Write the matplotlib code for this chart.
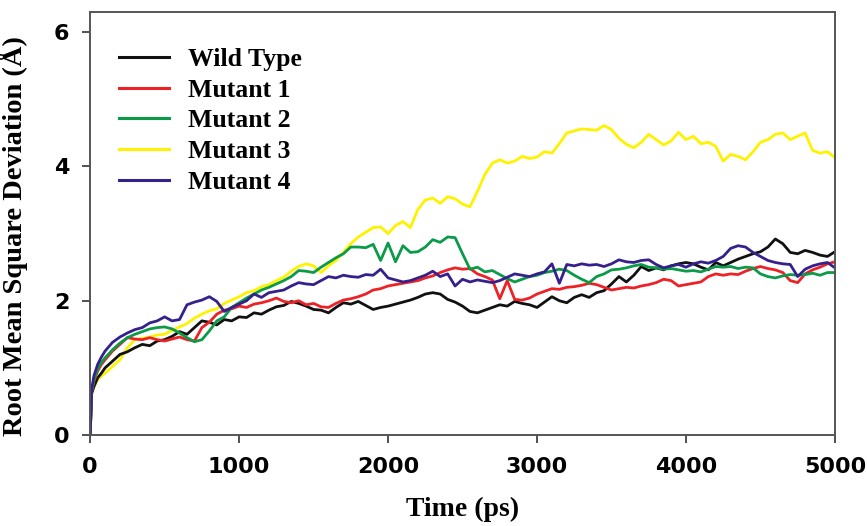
import matplotlib.pyplot as plt

time_ps = [0, 10, 25, 50, 75] + list(range(100, 5001, 50))

wild_type = [
    0.0, 0.62, 0.72,
    0.85, 0.92, 1.0, 1.1, 1.2, 1.24, 1.3, 1.35, 1.33, 1.4,
    1.42, 1.47, 1.54, 1.5, 1.6, 1.7, 1.68, 1.64, 1.72, 1.7,
    1.76, 1.75, 1.82, 1.8, 1.86, 1.91, 1.93, 1.99, 1.96, 1.92,
    1.87, 1.86, 1.82, 1.9, 1.97, 1.95, 1.99, 1.93, 1.87, 1.9,
    1.92, 1.95, 1.98, 2.01, 2.05, 2.1, 2.12, 2.1, 2.02, 1.98,
    1.92, 1.84, 1.82, 1.86, 1.9, 1.94, 1.92, 1.99, 1.96, 1.94,
    1.9, 1.98, 2.06, 2.0, 1.97, 2.05, 2.09, 2.05, 2.12, 2.15,
    2.25, 2.36, 2.28, 2.38, 2.51, 2.45, 2.49, 2.46, 2.52, 2.55,
    2.57, 2.55, 2.5, 2.46, 2.57, 2.52, 2.57, 2.62, 2.66, 2.7,
    2.73, 2.8, 2.92, 2.85, 2.72, 2.7, 2.75, 2.72, 2.68, 2.66,
    2.73,
]
mutant_1 = [
    0.0, 0.65, 0.8,
    0.95, 1.05, 1.12, 1.25, 1.35, 1.45, 1.43, 1.42, 1.45, 1.42,
    1.4, 1.43, 1.46, 1.42, 1.4, 1.6, 1.68, 1.8, 1.86, 1.88,
    1.92, 1.9, 1.95, 1.97, 2.0, 2.04, 1.99, 1.97, 2.0, 1.94,
    1.96, 1.91, 1.9, 1.96, 2.01, 2.03, 2.06, 2.1, 2.16, 2.18,
    2.22, 2.24, 2.26, 2.28, 2.3, 2.34, 2.37, 2.42, 2.46, 2.49,
    2.47, 2.48, 2.4, 2.36, 2.31, 2.03, 2.3, 2.02, 2.01, 2.04,
    2.1, 2.14, 2.18, 2.17, 2.2, 2.21, 2.23, 2.26, 2.24, 2.2,
    2.16, 2.18, 2.2, 2.19, 2.22, 2.24, 2.27, 2.32, 2.3, 2.22,
    2.24, 2.26, 2.28, 2.36, 2.4, 2.38, 2.4, 2.39, 2.44, 2.48,
    2.51, 2.48, 2.46, 2.42, 2.3, 2.27, 2.4, 2.46, 2.5, 2.55,
    2.58,
]
mutant_2 = [
    0.0, 0.65, 0.82,
    0.98, 1.08, 1.15, 1.27, 1.37, 1.45, 1.5, 1.54, 1.58, 1.6,
    1.61, 1.58, 1.52, 1.45, 1.39, 1.42, 1.55, 1.7, 1.76, 1.9,
    1.97, 2.04, 2.1, 2.16, 2.2, 2.25, 2.3, 2.36, 2.45, 2.44,
    2.42, 2.5, 2.57, 2.64, 2.7, 2.8, 2.8, 2.79, 2.84, 2.6,
    2.86, 2.58, 2.82, 2.72, 2.73, 2.8, 2.91, 2.87, 2.95, 2.94,
    2.7, 2.47, 2.5, 2.43, 2.45, 2.39, 2.33, 2.28, 2.32, 2.36,
    2.38, 2.42, 2.44, 2.47, 2.45, 2.38, 2.32, 2.27, 2.36, 2.4,
    2.46, 2.47, 2.49, 2.52, 2.54, 2.5, 2.49, 2.47, 2.48, 2.46,
    2.44, 2.45, 2.43, 2.47, 2.51, 2.5, 2.51, 2.48, 2.5, 2.49,
    2.4, 2.36, 2.34, 2.37, 2.39, 2.38, 2.39, 2.41, 2.38, 2.42,
    2.42,
]
mutant_3 = [
    0.0, 0.6, 0.72,
    0.82, 0.88, 0.92, 1.02, 1.12, 1.3, 1.42, 1.44, 1.46, 1.49,
    1.5, 1.56, 1.61, 1.66, 1.74, 1.8, 1.85, 1.88, 1.96, 2.01,
    2.06, 2.12, 2.15, 2.21, 2.24, 2.3, 2.35, 2.44, 2.51, 2.55,
    2.52, 2.42, 2.52, 2.6, 2.72, 2.85, 2.95, 3.02, 3.09, 3.1,
    3.0, 3.12, 3.18, 3.09, 3.36, 3.5, 3.53, 3.45, 3.55, 3.52,
    3.44, 3.4, 3.63, 3.88, 4.05, 4.1, 4.05, 4.08, 4.15, 4.12,
    4.14, 4.22, 4.2, 4.34, 4.5, 4.53, 4.56, 4.55, 4.54, 4.61,
    4.55, 4.42, 4.33, 4.28, 4.36, 4.48, 4.4, 4.32, 4.38, 4.51,
    4.4, 4.45, 4.34, 4.36, 4.3, 4.08, 4.18, 4.15, 4.1, 4.22,
    4.36, 4.4, 4.48, 4.5, 4.4, 4.45, 4.5, 4.24, 4.2, 4.22,
    4.13,
]
mutant_4 = [
    0.0, 0.68, 0.88,
    1.05, 1.16, 1.25, 1.38, 1.46, 1.52, 1.57, 1.6, 1.67, 1.7,
    1.76, 1.7, 1.72, 1.94, 1.98, 2.01, 2.06, 1.99, 1.84, 1.9,
    1.95, 2.0, 2.1, 2.05, 2.12, 2.14, 2.16, 2.22, 2.27, 2.25,
    2.24, 2.3, 2.36, 2.34, 2.38, 2.36, 2.35, 2.39, 2.38, 2.47,
    2.34, 2.31, 2.28, 2.3, 2.34, 2.38, 2.44, 2.36, 2.4, 2.22,
    2.32, 2.28, 2.31, 2.29, 2.27, 2.3, 2.35, 2.4, 2.38, 2.36,
    2.4, 2.43, 2.55, 2.26, 2.54, 2.52, 2.55, 2.53, 2.54, 2.51,
    2.55, 2.61, 2.58, 2.57, 2.6, 2.61, 2.54, 2.49, 2.52, 2.54,
    2.5, 2.55, 2.58, 2.56, 2.6, 2.66, 2.78, 2.82, 2.8, 2.72,
    2.66, 2.6, 2.57, 2.55, 2.54, 2.36, 2.47, 2.52, 2.55, 2.57,
    2.49,
]

series = [
    ('Wild Type', wild_type, '#111111'),
    ('Mutant 1', mutant_1, '#ec2227'),
    ('Mutant 2', mutant_2, '#0a9a48'),
    ('Mutant 3', mutant_3, '#fff200'),
    ('Mutant 4', mutant_4, '#35208c'),
]

serif = ['Liberation Serif', 'DejaVu Serif']
tick_font = {'family': 'DejaVu Sans', 'weight': 'bold', 'size': 16}

fig = plt.figure(figsize=(8.67, 5.26), dpi=100)
ax = fig.add_axes([0.104, 0.173, 0.859, 0.804])

# mutant 3 drawn first so the others sit on top, legend order kept below
order = [3, 0, 1, 2, 4]
handles = {}
for i in order:
    name, vals, col = series[i]
    line, = ax.plot(time_ps, vals, color=col, linewidth=2.0, label=name)
    handles[i] = line

ax.set_xlim(0, 5000)
ax.set_ylim(0, 6.3)
ax.set_xticks([0, 1000, 2000, 3000, 4000, 5000])
ax.set_yticks([0, 2, 4, 6])

for lab in ax.get_xticklabels() + ax.get_yticklabels():
    lab.set_fontfamily(tick_font['family'])
    lab.set_fontweight(tick_font['weight'])
    lab.set_fontsize(tick_font['size'])

ax.tick_params(direction='out', length=6, width=1.2, colors='#333333',
               labelcolor='black')
ax.tick_params(axis='y', pad=9)
ax.tick_params(axis='x', pad=10)
for sp in ax.spines.values():
    sp.set_color('#555555')
    sp.set_linewidth(1.4)

ax.set_xlabel('Time (ps)', family=serif, fontweight='bold', fontsize=20,
              labelpad=14)
ax.set_ylabel('Root Mean Square Deviation (Å)', family=serif,
              fontweight='bold', fontsize=20.5)
ax.yaxis.set_label_coords(-0.083, 0.47)

leg = ax.legend([handles[i] for i in range(5)], [s[0] for s in series],
                loc='upper left', bbox_to_anchor=(0.007, 0.97), frameon=False,
                prop={'family': serif, 'weight': 'bold', 'size': 18.5},
                handlelength=1.95, handletextpad=0.75, labelspacing=0.3)
for h in leg.legend_handles:
    h.set_linewidth(2.2)

fig.savefig('out.png', dpi=100)
